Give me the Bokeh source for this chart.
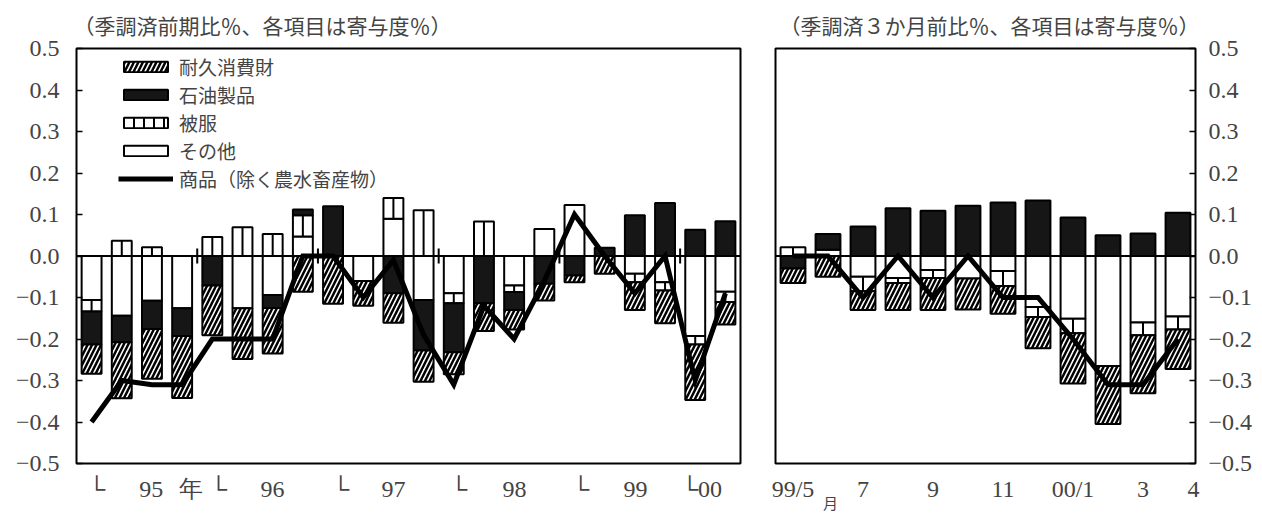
from bokeh.plotting import figure
from bokeh.models import (Range1d, FixedTicker, Span, Legend, LegendItem, ColumnDataSource,
                          LinearAxis)
from bokeh.layouts import row
from bokeh.embed import file_html
from bokeh.resources import INLINE

# ---------------- data: quarterly panel (contributions, %) ----------------
q_other   = [-0.106, -0.144, -0.108, -0.126, 0.000, -0.126, -0.094, 0.047, 0.000, -0.060, 0.090,
             -0.106, -0.090, 0.000, -0.071, 0.065, 0.123, 0.000, -0.043, -0.063, -0.193, -0.086]
q_cloth   = [-0.028, 0.037, 0.021, 0.000, 0.046, 0.069, 0.053, 0.051, 0.000, 0.000, 0.050,
             0.110, -0.024, 0.083, -0.016, 0.000, 0.000, 0.000, -0.020, -0.020, -0.020, -0.025]
q_petro   = [-0.079, -0.064, -0.068, -0.067, -0.071, 0.000, -0.031, 0.014, 0.120, 0.000, -0.090,
             -0.122, -0.118, -0.114, -0.043, -0.067, -0.047, 0.020, 0.098, 0.128, 0.063, 0.084]
q_durable = [-0.071, -0.135, -0.120, -0.149, -0.120, -0.122, -0.110, -0.086, -0.115, -0.060, -0.071,
             -0.075, -0.053, -0.067, -0.047, -0.040, -0.016, -0.043, -0.067, -0.079, -0.134, -0.054]
q_total   = [-0.40, -0.30, -0.31, -0.31, -0.20, -0.20, -0.20, 0.00, 0.00, -0.10, -0.01,
             -0.19, -0.31, -0.12, -0.20, -0.06, 0.10, 0.00, -0.09, 0.00, -0.30, -0.09]
q_tick_pos    = [0.16, 1.98, 3.28, 4.2, 5.99, 8.25, 10.0, 12.16, 14.01, 16.2, 18.02, 20.21]
q_tick_labels = ["└", "95", "年", "└", "96", "└", "97", "└", "98", "└", "99", "└00"]
q_year_marks  = [3.5, 7.5, 11.5, 15.5, 19.5]

# ---------------- data: monthly panel (3-month change, contributions, %) ----------------
m_other   = [0.000, 0.015, -0.050, -0.053, -0.034, -0.054, -0.036, -0.123, -0.151, -0.265, -0.160, -0.146]
m_cloth   = [0.021, 0.000, -0.035, -0.012, -0.019, 0.000, -0.036, -0.024, -0.035, 0.000, -0.031, -0.031]
m_petro   = [-0.030, 0.038, 0.071, 0.115, 0.109, 0.121, 0.129, 0.134, 0.093, 0.050, 0.054, 0.104]
m_durable = [-0.035, -0.050, -0.045, -0.065, -0.077, -0.075, -0.067, -0.075, -0.121, -0.140, -0.140, -0.095]
m_total   = [0.00, 0.00, -0.10, 0.00, -0.10, 0.00, -0.10, -0.10, -0.20, -0.31, -0.31, -0.20]
m_tick_pos    = [0, 2, 4, 6, 8, 10, 11.44]
m_tick_labels = ["99/5", "7", "9", "11", "00/1", "3", "4"]
m_unit_pos    = [1.07]
m_unit_labels = ["月"]

y_ticks  = [-0.5, -0.4, -0.3, -0.2, -0.1, 0.0, 0.1, 0.2, 0.3, 0.4, 0.5]
y_labels = ["−0.5", "−0.4", "−0.3", "−0.2", "−0.1", "0.0", "0.1", "0.2", "0.3", "0.4", "0.5"]

line_name = "商品（除く農水畜産物）"
title_q = "（季調済前期比％、各項目は寄与度％）"
title_m = "（季調済３か月前比％、各項目は寄与度％）"

NUM_FONT = "Liberation Serif"
JP_FONT = "Noto Sans CJK JP"


def stack(series_list):
    n = len(series_list[0])
    pos = [0.0] * n
    neg = [0.0] * n
    out = []
    for s in series_list:
        xs, b, t = [], [], []
        for i, v in enumerate(s):
            if v == 0:
                continue
            if v > 0:
                b.append(pos[i]); pos[i] += v; t.append(pos[i])
            else:
                b.append(neg[i]); neg[i] += v; t.append(neg[i])
            xs.append(i)
        out.append(dict(x=xs, bottom=b, top=t))
    return out


def make_panel(width, height, nbars, mbl, mbr, mbt, mbb, yloc, title, title_offset, title_standoff,
               other, cloth, petro, durable, total, bar_w, tick_pos, tick_labels, y_standoff):
    p = figure(width=width, height=height, x_range=Range1d(-0.5, nbars - 0.5),
               y_range=Range1d(-0.5, 0.5), output_backend="svg", toolbar_location=None,
               y_axis_location=yloc, min_border_left=mbl, min_border_right=mbr,
               min_border_top=mbt, min_border_bottom=mbb)
    p.grid.visible = False
    p.outline_line_color = "black"
    p.outline_line_width = 2
    p.background_fill_color = "white"
    p.border_fill_color = "white"

    p.title.text = title
    p.title.text_font = JP_FONT
    p.title.text_font_size = "21px"
    p.title.text_font_style = "normal"
    p.title.align = "left"
    p.title.vertical_align = "middle"
    p.title.offset = title_offset
    p.title.standoff = title_standoff

    ya = p.yaxis[0]
    ya.ticker = FixedTicker(ticks=y_ticks)
    ya.major_label_overrides = {t: l for t, l in zip(y_ticks, y_labels)}
    ya.major_tick_in = 6
    ya.major_tick_out = 0
    ya.major_tick_line_width = 1.5
    ya.minor_tick_line_color = None
    ya.axis_line_color = None
    ya.major_label_text_font = NUM_FONT
    ya.major_label_text_font_size = "24px"
    ya.major_label_standoff = y_standoff

    xa = p.xaxis[0]
    xa.ticker = FixedTicker(ticks=tick_pos)
    xa.major_label_overrides = {t: l for t, l in zip(tick_pos, tick_labels)}
    xa.major_tick_line_color = None
    xa.minor_tick_line_color = None
    xa.axis_line_color = None
    xa.major_label_text_font = NUM_FONT
    xa.major_label_text_font_size = "24px"
    xa.major_label_standoff = 6

    st = stack([other, cloth, petro, durable])
    common = dict(width=bar_w, line_color="black", line_width=2)
    r_o = p.vbar(source=ColumnDataSource(st[0]), x="x", bottom="bottom", top="top",
                 fill_color="white", **common)
    p.vbar(source=ColumnDataSource(st[1]), x="x", bottom="bottom", top="top",
           fill_color="white", **common)
    p.segment(source=ColumnDataSource(st[1]), x0="x", x1="x", y0="bottom", y1="top",
              line_color="black", line_width=2)
    # hidden twin of the clothing bars, used only for the legend swatch pattern
    r_cl = p.vbar(source=ColumnDataSource(st[1]), x="x", bottom="bottom", top="top",
                  fill_color="white", hatch_pattern="|", hatch_color="black",
                  hatch_weight=2, hatch_scale=10, visible=False, **common)
    r_p = p.vbar(source=ColumnDataSource(st[2]), x="x", bottom="bottom", top="top",
                 fill_color="#161616", **common)
    r_d = p.vbar(source=ColumnDataSource(st[3]), x="x", bottom="bottom", top="top",
                 fill_color="white", hatch_pattern="/", hatch_color="black",
                 hatch_weight=2.5, hatch_scale=9, **common)

    p.add_layout(Span(location=0, dimension="width", line_color="black", line_width=2))
    r_l = p.line(list(range(nbars)), total, line_color="black", line_width=5,
                 line_join="miter")
    return p, dict(o=r_o, c=r_cl, p=r_p, d=r_d, l=r_l)


p1, r1 = make_panel(757, 519, len(q_total), 76, 17, 46, 51, "left", title_q, -3, 16,
                    q_other, q_cloth, q_petro, q_durable, q_total, 0.66,
                    q_tick_pos, q_tick_labels, 17)
p1.segment(x0=q_year_marks, x1=q_year_marks, y0=[0.018] * len(q_year_marks),
           y1=[-0.018] * len(q_year_marks), line_color="black", line_width=2)

legend = Legend(items=[
    LegendItem(label="耐久消費財", renderers=[r1["d"]]),
    LegendItem(label="石油製品", renderers=[r1["p"]]),
    LegendItem(label="被服", renderers=[r1["c"]]),
    LegendItem(label="その他", renderers=[r1["o"]]),
    LegendItem(label=line_name, renderers=[r1["l"]]),
], location=(42, 271), orientation="vertical", glyph_width=55, glyph_height=13,
    label_standoff=6, spacing=1, label_height=26, padding=0, margin=0,
    border_line_color=None, background_fill_alpha=0,
    label_text_font=JP_FONT, label_text_font_size="19px")
p1.add_layout(legend)

p2, r2 = make_panel(503, 519, len(m_total), 18, 65, 43, 56, "right", title_m, 4, 16,
                    m_other, m_cloth, m_petro, m_durable, m_total, 0.71,
                    m_tick_pos, m_tick_labels, 13)
unit_axis = LinearAxis(ticker=FixedTicker(ticks=m_unit_pos),
                       major_label_overrides={t: l for t, l in zip(m_unit_pos, m_unit_labels)},
                       major_tick_line_color=None, minor_tick_line_color=None,
                       axis_line_color=None, major_label_standoff=-19,
                       major_label_text_font=JP_FONT, major_label_text_font_size="15px")
p2.add_layout(unit_axis, "below")

layout = row(p1, p2)
open("out.html", "w").write(file_html(layout, INLINE))
